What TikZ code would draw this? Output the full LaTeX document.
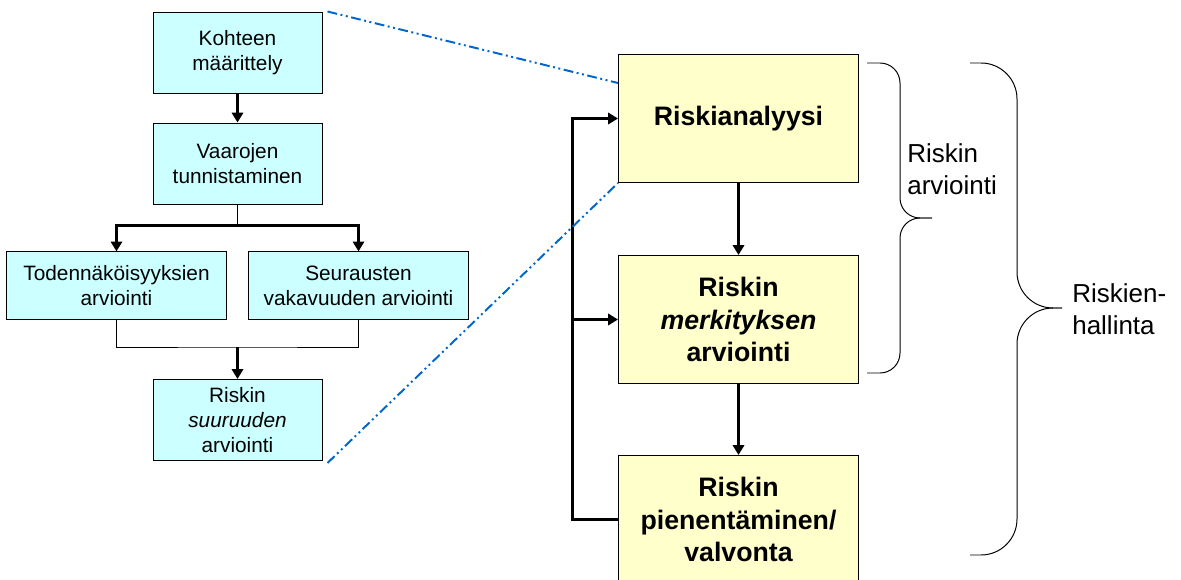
\documentclass[tikz,border=0pt]{standalone}
\usepackage{fontspec}
\setmainfont{Liberation Sans}
\usepackage{tikz}
\usetikzlibrary{positioning, arrows.meta, calc}

\definecolor{boxcyan}{HTML}{CCFFFF}
\definecolor{boxyellow}{HTML}{FFFFCC}
\definecolor{zoomblue}{HTML}{0066CC}

\begin{document}
\begin{tikzpicture}[
    on grid,
    leftbox/.style={draw, line width=0.7pt, fill=boxcyan, minimum width=4.225cm, minimum height=2.025cm,
        align=center, inner sep=0pt, font=\fontsize{14.8}{17.8}\selectfont},
    mainbox/.style={draw, line width=0.7pt, fill=boxyellow, minimum width=6cm, minimum height=3.2cm,
        align=center, inner sep=0pt, font=\fontsize{19}{23}\selectfont\bfseries},
    flow/.style={line width=1.7pt, -{Triangle[length=7pt,width=8pt]}},
    plainline/.style={line width=0.7pt},
    zoomline/.style={zoomblue, line width=1.4pt, dash pattern=on 7pt off 2.5pt on 1.4pt off 2.5pt on 1.4pt off 2.5pt},
    curly/.style={line width=0.7pt},
    bracetext/.style={inner sep=0pt, align=left, font=\fontsize{18.5}{22.8}\selectfont}
]
    \useasboundingbox (0,0) rectangle (29.525,-14.5);

    % Define nodes
    \node[leftbox] (kohde) at (5.9375,-1.3125) {Kohteen\\määrittely};
    \node[leftbox, below=2.775cm of kohde] (vaarat) {Vaarojen\\tunnistaminen};
    \node[leftbox, minimum width=5.5cm, minimum height=1.7cm, below left=3.06cm and 3.025cm of vaarat] (todnak) {Todennäköisyyksien\\arviointi};
    \node[leftbox, minimum width=5.5cm, minimum height=1.7cm, below right=3.06cm and 3.025cm of vaarat] (seuraus) {Seurausten\\vakavuuden arviointi};
    \node[leftbox, below=6.4125cm of vaarat] (suuruus) {Riskin\\\textit{suuruuden}\\arviointi};

    \node[mainbox] (analyysi) at (18.4625,-2.9625) {Riskianalyysi};
    \node[mainbox, below=5.025cm of analyysi] (merkitys) {Riskin\\\textit{merkityksen}\\arviointi};
    \node[mainbox, below=5cm of merkitys] (pienent) {Riskin\\pienentäminen/\\valvonta};

    \coordinate (split) at ($(vaarat.south)+(0,-0.525)$);
    \coordinate (join) at ($(suuruus.north)+(0,0.8)$);
    \coordinate (loop) at ($(pienent.west)+(-1.1375,0)$);

    % Left flow
    \draw[flow] (kohde) -- (vaarat);
    \draw[plainline] (vaarat) -- (split);
    \draw[flow] (split) -| (todnak);
    \draw[flow] (split) -| (seuraus);
    \draw[plainline] (todnak) |- (join) -| (seuraus);
    \draw[flow] (join) -- (suuruus);

    % Right flow with feedback
    \draw[flow] (analyysi) -- (merkitys);
    \draw[flow] (merkitys) -- (pienent);
    \draw[flow] (pienent.west) -- (loop) |- (analyysi.west);
    \draw[flow] (loop |- merkitys.west) -- (merkitys.west);

    % Zoom lines
    \draw[zoomline] ($(kohde.north east)+(0.125,0)$) -- ($(analyysi.north west)+(0,-0.725)$);
    \draw[zoomline] ($(suuruus.south east)+(0.125,-0.05)$) -- (analyysi.south west);

    % Braces
    \coordinate (arvtip) at (23.3,-5.45);
    \coordinate (hallintip) at (26.55,-7.7);
    \draw[curly, rounded corners=0.5cm] (21.675,-1.575) -- (22.5,-1.575) -- (22.5,-5.45) -- (arvtip);
    \draw[curly, rounded corners=0.5cm] (arvtip) -- (22.5,-5.45) -- (22.5,-9.325) -- (21.675,-9.325);
    \draw[curly, rounded corners=0.9cm] (24.25,-1.575) -- (25.425,-1.575) -- (25.425,-7.7) -- (hallintip);
    \draw[curly, rounded corners=0.9cm] (hallintip) -- (25.425,-7.7) -- (25.425,-13.875) -- (24.25,-13.875);

    \node[bracetext, anchor=south west] (arvtext) at (22.675,-4.875) {Riskin\\arviointi};
    \node[bracetext, anchor=south west] (hallinta) at (26.8,-8.375) {Riskien-\\hallinta};
\end{tikzpicture}
\end{document}
